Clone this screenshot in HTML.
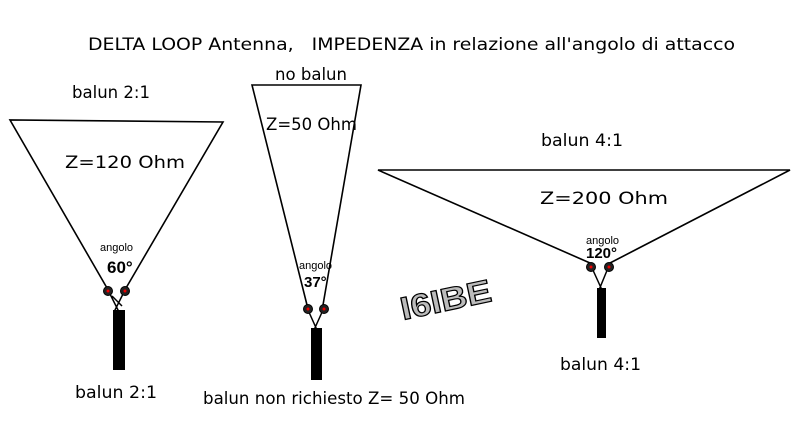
<!DOCTYPE html>
<html><head><meta charset="utf-8"><style>html,body{margin:0;padding:0;background:#fff}svg{display:block}</style></head>
<body>
<svg width="800" height="430" viewBox="0 0 800 430" xmlns="http://www.w3.org/2000/svg" font-family="'DejaVu Sans','Liberation Sans',sans-serif">
<rect width="800" height="430" fill="#fff"/>
<g stroke="#000" stroke-width="1.6" fill="none">
<polyline points="107,288 10,120 223,122 126,288"/>
<polyline points="307,305 252,85 361,85 323,305"/>
<polyline points="590,263 378,170 790,170 610,263"/>
</g>
<g fill="#000">
<rect x="113" y="310" width="12" height="60"/>
<rect x="311" y="328" width="11" height="52"/>
<rect x="597" y="288" width="9" height="50"/>
</g>
<g stroke="#000" stroke-width="1.5" fill="none">
<path d="M109,292 L119,312 M124,292 L114,312 M112,296 L122,306"/>
<path d="M308,310 L317,330 M323,310 L314,330"/>
<path d="M592,268 L602,290 M608,268 L599,290"/>
</g>
<g fill="#222" stroke="#000">
<circle cx="108" cy="291" r="4.5"/><circle cx="125" cy="291" r="4.5"/>
<circle cx="308" cy="309" r="4.5"/><circle cx="324" cy="309" r="4.5"/>
<circle cx="591" cy="267" r="4.5"/><circle cx="609" cy="267" r="4.5"/>
</g>
<g fill="#e00">
<circle cx="108" cy="291" r="1.5"/><circle cx="125" cy="291" r="1.5"/>
<circle cx="308" cy="309" r="1.5"/><circle cx="324" cy="309" r="1.5"/>
<circle cx="591" cy="267" r="1.5"/><circle cx="609" cy="267" r="1.5"/>
</g>
<g fill="#000" font-size="17" lengthAdjust="spacingAndGlyphs">
<text x="88" y="50" textLength="647" lengthAdjust="spacingAndGlyphs">DELTA LOOP Antenna,&#160;&#160; IMPEDENZA in relazione all'angolo di attacco</text>
<text x="72" y="98" textLength="78" lengthAdjust="spacingAndGlyphs">balun 2:1</text>
<text x="65" y="168" textLength="120" lengthAdjust="spacingAndGlyphs">Z=120 Ohm</text>
<text x="275" y="80" textLength="72" lengthAdjust="spacingAndGlyphs">no balun</text>
<text x="266" y="130" textLength="91" lengthAdjust="spacingAndGlyphs">Z=50 Ohm</text>
<text x="541" y="146" textLength="82" lengthAdjust="spacingAndGlyphs">balun 4:1</text>
<text x="540" y="204" textLength="128" lengthAdjust="spacingAndGlyphs">Z=200 Ohm</text>
<text x="75" y="398" textLength="82" lengthAdjust="spacingAndGlyphs">balun 2:1</text>
<text x="203" y="404" textLength="262" lengthAdjust="spacingAndGlyphs">balun non richiesto Z= 50 Ohm</text>
<text x="560" y="370" textLength="81" lengthAdjust="spacingAndGlyphs">balun 4:1</text>
</g>
<g font-family="'Liberation Sans',sans-serif" fill="#000">
<text x="100" y="251" font-size="11">angolo</text>
<text x="107" y="273" font-size="17" font-weight="bold">60°</text>
<text x="299" y="269" font-size="11">angolo</text>
<text x="304" y="287" font-size="15" font-weight="bold">37°</text>
<text x="586" y="244" font-size="11">angolo</text>
<text x="586" y="258" font-size="15" font-weight="bold">120°</text>
</g>
<text x="0" y="0" transform="translate(403,320) rotate(-12)" font-family="'Liberation Sans',sans-serif" font-size="32" font-weight="bold" fill="#bbb" stroke="#000" stroke-width="1.2" textLength="92" lengthAdjust="spacingAndGlyphs">I6IBE</text>
</svg>
</body></html>
